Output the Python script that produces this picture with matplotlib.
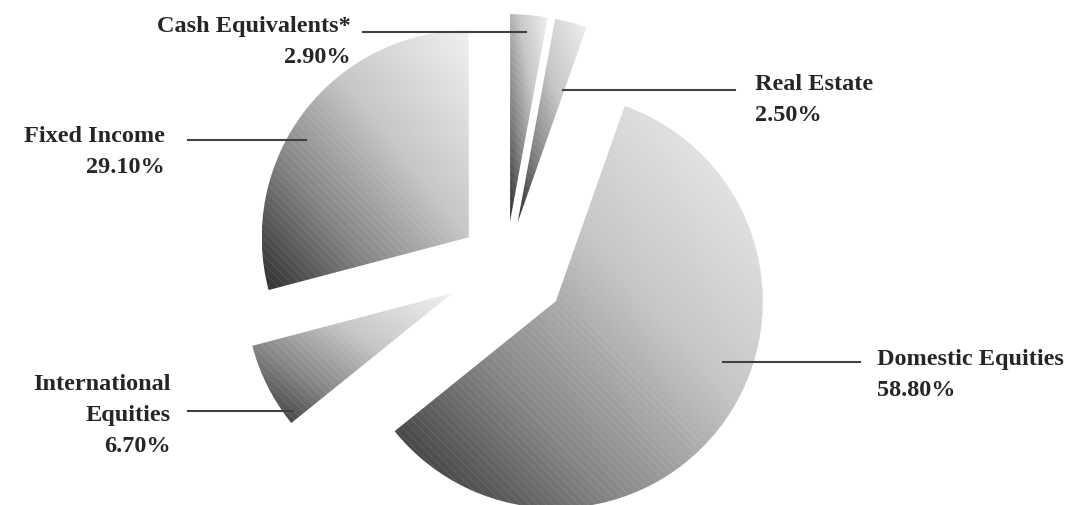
import matplotlib
matplotlib.use('Agg')
import matplotlib.pyplot as plt
import numpy as np
from matplotlib.colors import LinearSegmentedColormap

# slices, clockwise from 12 o'clock
labels = ['Cash Equivalents*', 'Real Estate', 'Domestic Equities',
          'International Equities', 'Fixed Income']
values = [2.9, 2.5, 58.8, 6.7, 29.1]
explode = [45, 45, 61, 60, 47]   # pie offsets (data units = px here)

# label text lines and where they go (pixels, y from top)
label_lines = [['Cash Equivalents*', '2.90%'],
               ['Real Estate', '2.50%'],
               ['Domestic Equities', '58.80%'],
               ['International', 'Equities', '6.70%'],
               ['Fixed Income', '29.10%']]
label_pos = [(351, 32, 'right'), (755, 90, 'left'), (877, 365, 'left'),
             (171, 390, 'right'), (165, 142, 'right')]
leaders = [(363, 526, 33), (563, 735, 91), (723, 860, 363),
           (188, 293, 412), (188, 306, 141)]

plt.rcParams['hatch.linewidth'] = 0.5

W, H = 1091, 506
fig = plt.figure(figsize=(W / 100, H / 100), dpi=100)
ax = fig.add_axes([0, 0, 1, 1])

wedges, _ = ax.pie(values, explode=explode, startangle=90, counterclock=False,
                   radius=207, center=(506, H - 267),
                   wedgeprops=dict(linewidth=0))

cmap = LinearSegmentedColormap.from_list(
    'g', [(0, '#2e2e2e'), (0.3, '#858585'), (0.6, '#c6c6c6'), (1, '#f0f0f0')])
gx, gy = np.meshgrid(np.linspace(0, 1, 200), np.linspace(0, 1, 200))
grad = (gx + gy) / 2

for w in wedges:
    bb = w.get_path().get_extents()
    im = ax.imshow(grad, cmap=cmap, origin='lower', interpolation='bilinear',
                   extent=(bb.x0, bb.x1, bb.y0, bb.y1), zorder=1)
    im.set_clip_path(w)
    w.set_facecolor('none')
    w.set_edgecolor((1, 1, 1, 0.12))
    w.set_hatch('\\\\\\\\')
    w.set_zorder(2)

for lines, (x, y, ha) in zip(label_lines, label_pos):
    for i, s in enumerate(lines):
        ax.text(x, H - (y + i * 31), s, ha=ha, va='baseline', fontsize=17.5,
                fontweight='bold', family='Liberation Serif', color='#262626')

for x0, x1, y in leaders:
    ax.plot([x0, x1], [H - y, H - y], color='#404040', lw=1.5, zorder=3)

ax.set_xlim(0, W)
ax.set_ylim(0, H)
ax.set_aspect('auto')
ax.axis('off')

fig.savefig('out.png', dpi=100)
